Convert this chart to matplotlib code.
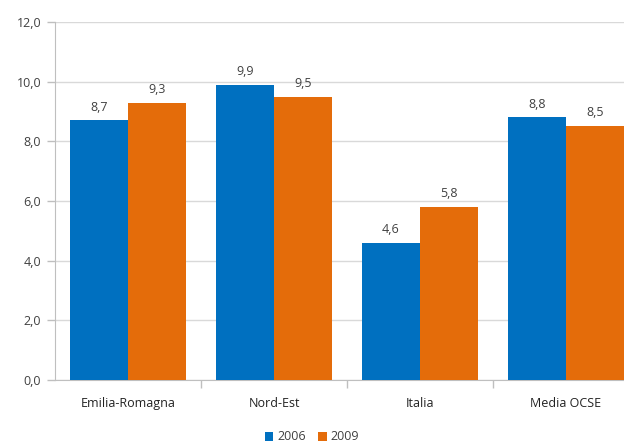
import matplotlib.pyplot as plt
import numpy as np

categories = ["Emilia-Romagna", "Nord-Est", "Italia", "Media OCSE"]
values_2006 = [8.7, 9.9, 4.6, 8.8]
values_2009 = [9.3, 9.5, 5.8, 8.5]
series_names = ["2006", "2009"]
y_ticks = [0, 2, 4, 6, 8, 10, 12]

blue = "#0070C0"
orange = "#E46C0A"
text_color = "#404040"

plt.rcParams["font.family"] = ["Open Sans", "DejaVu Sans"]

fig = plt.figure(figsize=(6.24, 4.46), dpi=100)
ax = fig.add_axes([55 / 624, 1 - 380 / 446, 584 / 624, 358 / 446])

x = np.arange(len(categories))
w = 0.4
b1 = ax.bar(x - w / 2, values_2006, w, color=blue, label=series_names[0], zorder=3)
b2 = ax.bar(x + w / 2, values_2009, w, color=orange, label=series_names[1], zorder=3)

for bars in (b1, b2):
    for bar in bars:
        h = bar.get_height()
        ax.annotate(f"{h:.1f}".replace(".", ","),
                    (bar.get_x() + bar.get_width() / 2, h),
                    xytext=(0, 5), textcoords="offset points",
                    ha="center", va="bottom", fontsize=9, color=text_color)

ax.set_xlim(-0.5, 3.5)
ax.set_ylim(0, 12)
ax.set_yticks(y_ticks)
ax.set_yticklabels([f"{v:.1f}".replace(".", ",") for v in y_ticks])
ax.set_xticks(x)
ax.set_xticklabels(categories)
ax.set_xticks([0.5, 1.5, 2.5], minor=True)
ax.tick_params(axis="x", which="major", length=0, pad=12, labelsize=9, labelcolor="#222222")
ax.tick_params(axis="x", which="minor", length=6, color="#BFBFBF", width=1)
ax.tick_params(axis="y", length=6, color="#BFBFBF", width=1, labelsize=9, labelcolor=text_color, pad=4)

ax.grid(axis="y", color="#D9D9D9", linewidth=1, zorder=0)
for side in ["top", "right"]:
    ax.spines[side].set_visible(False)
ax.spines["left"].set_color("#BFBFBF")
ax.spines["bottom"].set_color("#BFBFBF")

fig.legend(handles=[b1, b2], labels=series_names, loc="center", bbox_to_anchor=(0.5, 1 - 437 / 446),
           ncol=2, frameon=False, fontsize=9, handlelength=0.7, handleheight=0.7,
           handletextpad=0.3, columnspacing=1.0, labelcolor=text_color)

fig.savefig("out.png", dpi=100)
